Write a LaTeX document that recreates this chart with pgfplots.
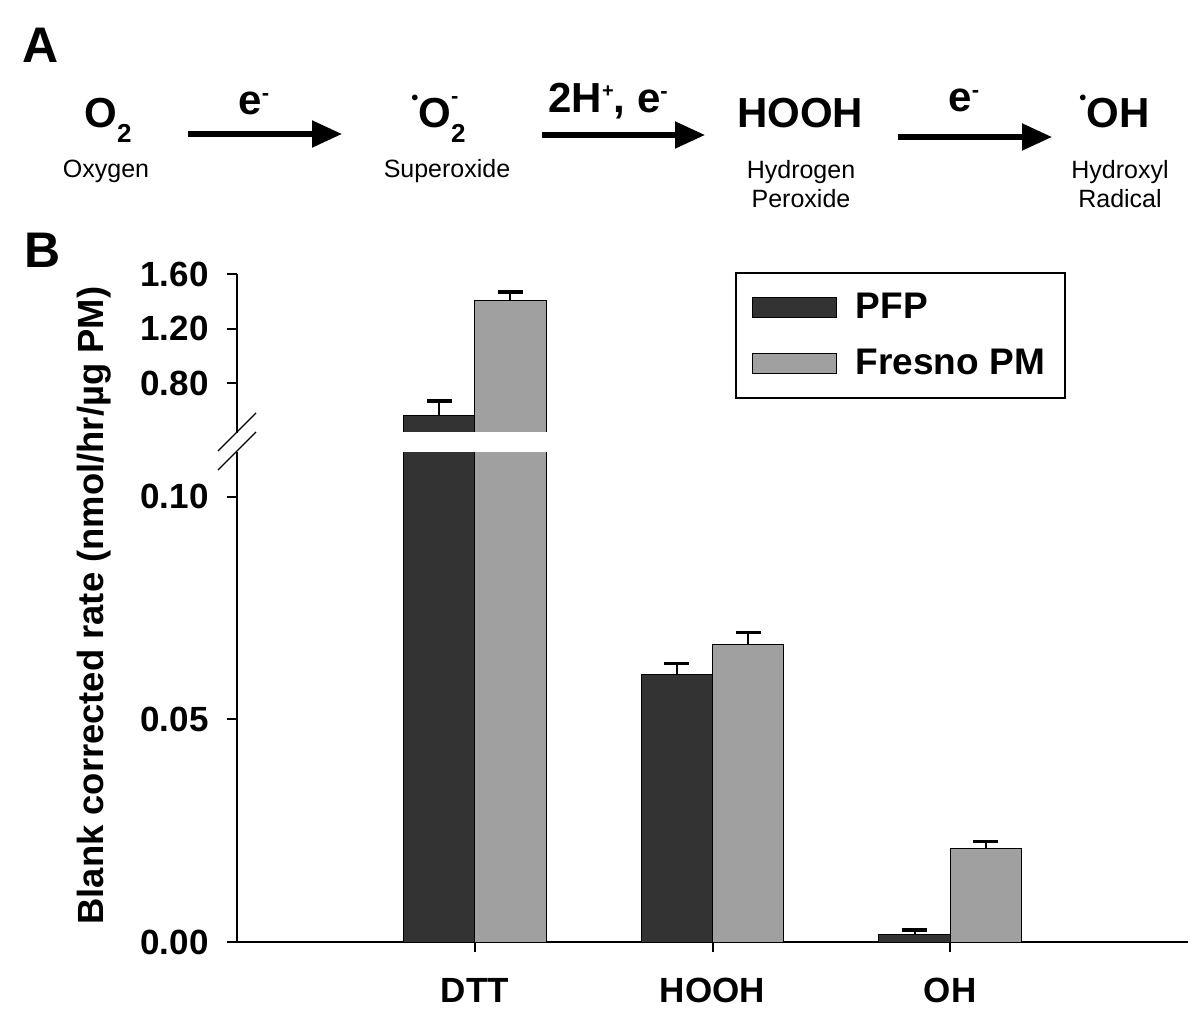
\documentclass[border=0pt]{standalone}
\usepackage{pgfplots}
\usepackage{pgfplotstable}
\pgfplotsset{compat=1.18}
\usepackage{fontspec}
\setmainfont{Liberation Sans}
\usetikzlibrary{arrows.meta}

\definecolor{darkbar}{HTML}{333333}
\definecolor{lightbar}{HTML}{A0A0A0}

\newcommand\bigf{\fontsize{21}{24}\selectfont\bfseries}
\newcommand\smallf{\fontsize{12.5}{15}\selectfont}
\newcommand\axf{\fontsize{17.5}{20}\selectfont\bfseries}
\newcommand\subtwo{\raisebox{-7.5pt}{\fontsize{13}{13}\selectfont 2}}
\newcommand\supminus{\raisebox{7pt}{\fontsize{11}{11}\selectfont -}}
\newcommand\raddot{\raisebox{11.5pt}{\fontsize{10}{10}\selectfont •}}

% rate values: DTT, HOOH, OH
\pgfplotstableread{
x pfp pfperr fresno fresnoerr
0 0.565  0.103  1.409  0.059
1 0.0600 0.0025 0.0667 0.0027
2 0.0016 0.0011 0.0209 0.0016
}\ratetable

\pgfplotsset{
  rateaxis/.style={
    scale only axis, width=475.5pt,
    xmin=-1, xmax=3,
    ybar, bar width=0.3,
    axis line style={-, line width=1pt},
    tick style={line width=1pt, black},
    tick align=outside, major tick length=5pt,
    yticklabel style={font=\axf, inner sep=0pt, xshift=-9pt},
    xticklabel style={font=\axf, inner sep=0pt, yshift=-13pt},
    legend image code/.code={\draw[##1, line width=0.5pt] (0pt,-5pt) rectangle (42pt,5pt);},
  },
  errstyle/.style={error bars/.cd, y dir=plus, y explicit,
    error bar style={line width=1pt, black},
    error mark options={rotate=90, line width=1.6pt, mark size=6.25pt, black}},
  pfpbar/.style={fill=darkbar, draw=black, line width=0.5pt, bar shift=-0.15, errstyle},
  fresnobar/.style={fill=lightbar, draw=black, line width=0.5pt, bar shift=0.15, errstyle},
}

\begin{document}
\begin{tikzpicture}[x=0.5pt,y=-0.5pt]
\useasboundingbox (0,0) rectangle (1200,1022);

% panel A: reaction scheme
\node[anchor=base west, inner sep=0pt] at (22,63) {\fontsize{25}{25}\selectfont\bfseries A};
\node[anchor=base west, inner sep=0pt] at (84,127) {\bigf O\subtwo};
\node[anchor=base, inner sep=0pt] at (106,177) {\smallf Oxygen};
\draw[line width=2.6pt, -{Triangle[length=15pt,width=13pt]}] (188,134) -- (342,134);
\node[anchor=base west, inner sep=0pt] at (238,115) {\bigf e\supminus};

\node[anchor=base west, inner sep=0pt] at (411,127) {\bigf\raddot O\rlap{\raisebox{12pt}{\fontsize{11}{11}\selectfont -}}\subtwo};
\node[anchor=base, inner sep=0pt] at (447,177) {\smallf Superoxide};
\draw[line width=2.6pt, -{Triangle[length=15pt,width=13pt]}] (542,135) -- (705,135);
\node[anchor=base west, inner sep=0pt] at (548,113) {\bigf 2H\raisebox{8pt}{\fontsize{10}{10}\selectfont +}, e\supminus};

\node[anchor=base, inner sep=0pt] at (800,127) {\bigf HOOH};
\node[anchor=base, inner sep=0pt] at (801,178) {\smallf Hydrogen};
\node[anchor=base, inner sep=0pt] at (801,207) {\smallf Peroxide};
\draw[line width=2.6pt, -{Triangle[length=15pt,width=13pt]}] (898,137) -- (1052,137);
\node[anchor=base west, inner sep=0pt] at (948,112) {\bigf e\supminus};

\node[anchor=base west, inner sep=0pt] at (1079,127) {\bigf\raddot OH};
\node[anchor=base, inner sep=0pt] at (1120,178) {\smallf Hydroxyl};
\node[anchor=base, inner sep=0pt] at (1120,207) {\smallf Radical};

% panel B
\node[anchor=base west, inner sep=0pt] at (24,267) {\fontsize{25}{25}\selectfont\bfseries B};

% lower part of the broken axis
\begin{axis}[rateaxis,
  at={(118.5pt,-471pt)}, anchor=south west, height=245pt,
  ymin=0, ymax=0.11,
  axis x line*=bottom, axis y line*=left,
  xtick={0,1,2}, xticklabels={DTT,HOOH,OH},
  ytick={0,0.05,0.10}, yticklabels={0.00,0.05,0.10},
]
\addplot[pfpbar] table[x=x, y=pfp, y error=pfperr] {\ratetable};
\addplot[fresnobar] table[x=x, y=fresno, y error=fresnoerr] {\ratetable};
\end{axis}

% upper part of the broken axis
\begin{axis}[rateaxis,
  at={(118.5pt,-216.5pt)}, anchor=south west, height=79.5pt,
  ymin=0.433, ymax=1.60,
  restrict y to domain=0.3:2,
  axis x line=none, axis y line*=left,
  ytick={0.8,1.2,1.6}, yticklabels={0.80,1.20,1.60},
  legend style={at={(0.5237,1.0126)}, anchor=north west, draw=black, line width=0.8pt,
    inner xsep=8pt, inner ysep=8pt, row sep=10pt, column sep=7.5pt,
    font=\fontsize{18.5}{20}\selectfont\bfseries, cells={anchor=west}},
  legend cell align=left,
]
\addplot[pfpbar] table[x=x, y=pfp, y error=pfperr] {\ratetable};
\addplot[fresnobar] table[x=x, y=fresno, y error=fresnoerr] {\ratetable};
\legend{PFP, Fresno PM}
% hide the bar bottoms at the break
\fill[white] (axis cs:-0.5,0.40) rectangle (axis cs:0.5,0.4375);
\end{axis}

% axis break marks
\draw[line width=0.6pt] (218,451) -- (256,413);
\draw[line width=0.6pt] (218,470) -- (256,432);

% y label
\node[anchor=base west, inner sep=0pt, rotate=90] at (103,925) {\fontsize{18.2}{20}\selectfont\bfseries Blank corrected rate (nmol/hr/µg PM)};
\end{tikzpicture}
\end{document}
